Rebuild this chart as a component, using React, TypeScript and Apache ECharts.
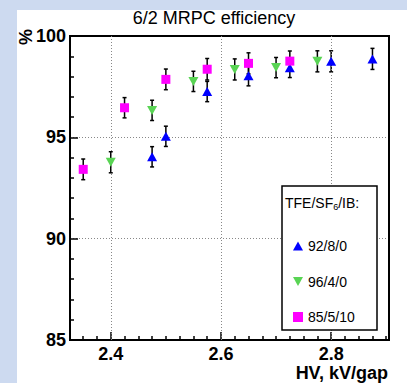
import React, { useEffect, useRef } from "react";
import * as echarts from "echarts";

// HV (kV/gap) and efficiency (%) per gas mixture
const hvA = [2.475, 2.5, 2.575, 2.65, 2.725, 2.8, 2.875];
const effA = [94.04, 95.05, 97.26, 98.04, 98.43, 98.75, 98.87];
const errA = [0.5, 0.5, 0.5, 0.5, 0.48, 0.52, 0.52];

const hvB = [2.4, 2.475, 2.55, 2.625, 2.7, 2.775];
const effB = [93.77, 96.33, 97.76, 98.35, 98.44, 98.75];
const errB = [0.52, 0.5, 0.5, 0.52, 0.5, 0.52];

const hvC = [2.35, 2.425, 2.5, 2.575, 2.65, 2.725];
const effC = [93.42, 96.46, 97.86, 98.36, 98.65, 98.76];
const errC = [0.51, 0.5, 0.51, 0.53, 0.52, 0.5];

const seriesNames = ["92/8/0", "96/4/0", "85/5/10"];
const xMajorTicks = [2.4, 2.6, 2.8];
const xMinorTicks = [2.35, 2.375, 2.425, 2.45, 2.475, 2.5, 2.525, 2.55, 2.575, 2.625, 2.65, 2.675, 2.7, 2.725, 2.75, 2.775, 2.825, 2.85, 2.875, 2.9];

const FONT = "'Liberation Sans', Arial, Helvetica, sans-serif";
const DOWN_TRI = "path://M0,0 L10,0 L5,9 Z";
const UP_TRI = "path://M5,0 L10,9 L0,9 Z";

function pts(hv: number[], eff: number[]) {
  return hv.map((h, i) => [h, eff[i]]);
}
function errs(hv: number[], eff: number[], err: number[]) {
  return hv.map((h, i) => [h, eff[i] - err[i], eff[i] + err[i]]);
}

const errRender = (params: any, api: any) => {
  const x = api.value(0);
  const lo = api.coord([x, api.value(1)]);
  const hi = api.coord([x, api.value(2)]);
  const style = { stroke: "#000", lineWidth: 1.5 };
  const cap = 2;
  return {
    type: "group",
    children: [
      { type: "line", shape: { x1: lo[0], y1: lo[1], x2: hi[0], y2: hi[1] }, style },
      { type: "line", shape: { x1: lo[0] - cap, y1: lo[1], x2: lo[0] + cap, y2: lo[1] }, style },
      { type: "line", shape: { x1: hi[0] - cap, y1: hi[1], x2: hi[0] + cap, y2: hi[1] }, style },
    ],
  };
};

export default function App() {
  const ref = useRef<HTMLDivElement>(null);
  useEffect(() => {
    document.body.style.margin = "0";
    const chart = echarts.init(ref.current!, undefined, { renderer: "svg" });
    const labelStyle = { fontFamily: FONT, fontWeight: "bold" as const, fontSize: 18, color: "#000" };
    const dotted = { color: "#888", width: 1, type: [1, 2] as any };
    chart.setOption({
      animation: false,
      backgroundColor: "#cddaf0",
      grid: {
        left: 70,
        right: 18,
        top: 36,
        bottom: 43,
        show: true,
        borderColor: "#000",
        borderWidth: 2,
        backgroundColor: "transparent",
        z: 3,
      },
      xAxis: [
        {
          type: "value",
          min: 2.326,
          max: 2.905,
          axisLine: { show: true, onZero: false, lineStyle: { color: "#000", width: 2 } },
          axisTick: { show: true, inside: true, length: 8, customValues: xMajorTicks, lineStyle: { color: "#000", width: 1.5 } },
          axisLabel: { ...labelStyle, margin: 5, customValues: xMajorTicks, formatter: (v: number) => v.toFixed(1) },
          splitLine: { show: false },
        },
        {
          type: "value",
          min: 2.326,
          max: 2.905,
          position: "bottom",
          axisLine: { show: false },
          axisTick: { show: true, inside: true, length: 4, customValues: xMinorTicks, lineStyle: { color: "#000", width: 1.5 } },
          axisLabel: { show: false },
          splitLine: { show: false },
        },
      ],
      yAxis: {
        type: "value",
        min: 85,
        max: 100,
        interval: 5,
        axisLine: { show: true, onZero: false, lineStyle: { color: "#000", width: 2 } },
        axisTick: { show: true, inside: true, length: 8, lineStyle: { color: "#000", width: 1.5 } },
        minorTick: { show: true, splitNumber: 5, length: 4, lineStyle: { color: "#000", width: 1.5 } },
        axisLabel: { ...labelStyle, margin: 4 },
        splitLine: { show: true, showMinLine: false, showMaxLine: false, lineStyle: dotted },
      },
      legend: {
        data: [
          { name: seriesNames[0], icon: UP_TRI },
          { name: seriesNames[1], icon: DOWN_TRI },
          { name: seriesNames[2], icon: "rect" },
        ],
        orient: "vertical",
        left: 288,
        top: 233,
        itemWidth: 10,
        itemHeight: 10,
        itemGap: 19.5,
        z: 20,
        textStyle: { fontFamily: FONT, fontSize: 14, color: "#000", lineHeight: 16 },
      },
      graphic: [
        { type: "rect", z: -10, silent: true, shape: { x: 17, y: 10, width: 400, height: 380 }, style: { fill: "#fff" } },
        {
          type: "text",
          x: 214,
          y: 18,
          style: { text: "6/2 MRPC efficiency", font: `18px ${FONT}`, fill: "#000", align: "center", verticalAlign: "middle" },
        },
        {
          type: "text",
          x: 26,
          y: 37,
          rotation: Math.PI / 2,
          style: { text: "%", font: `bold 18px ${FONT}`, fill: "#000", align: "center", verticalAlign: "middle" },
        },
        {
          type: "text",
          x: 388,
          y: 373,
          style: { text: "HV, kV/gap", font: `bold 18px ${FONT}`, fill: "#000", align: "right", verticalAlign: "middle" },
        },
        {
          type: "rect",
          z: 10,
          shape: { x: 282, y: 186, width: 95, height: 144 },
          style: { fill: "#fff", stroke: "#000", lineWidth: 1.5 },
        },
        {
          type: "text",
          z: 11,
          x: 285,
          y: 195,
          style: {
            text: "{a|TFE/SF}{s|6}{a|/IB:}",
            fill: "#000",
            rich: {
              a: { fontFamily: FONT, fontSize: 14, lineHeight: 16, fill: "#000" },
              s: { fontFamily: FONT, fontSize: 9, lineHeight: 10, padding: [6, 0, 0, 0], verticalAlign: "bottom", fill: "#000" },
            },
          },
        },
      ],
      series: [
        {
          type: "custom",
          renderItem: errRender,
          data: errs(hvA, effA, errA),
          z: 2,
          silent: true,
          markLine: {
            silent: true,
            symbol: "none",
            label: { show: false },
            lineStyle: dotted,
            data: xMajorTicks.map((v) => ({ xAxis: v })),
          },
        },
        { type: "custom", renderItem: errRender, data: errs(hvB, effB, errB), z: 2, silent: true },
        { type: "custom", renderItem: errRender, data: errs(hvC, effC, errC), z: 2, silent: true },
        {
          name: seriesNames[0],
          type: "scatter",
          symbol: "triangle",
          symbolSize: [10, 9],
          itemStyle: { color: "#0000ff", opacity: 1 },
          data: pts(hvA, effA),
          z: 5,
        },
        {
          name: seriesNames[1],
          type: "scatter",
          symbol: "triangle",
          symbolRotate: 180,
          symbolSize: [10, 9],
          itemStyle: { color: "#59d454", opacity: 1 },
          data: pts(hvB, effB),
          z: 5,
        },
        {
          name: seriesNames[2],
          type: "scatter",
          symbol: "rect",
          symbolSize: 9,
          itemStyle: { color: "#ff00ff", opacity: 1 },
          data: pts(hvC, effC),
          z: 5,
        },
      ],
    });
    return () => chart.dispose();
  }, []);
  return <div ref={ref} style={{ width: 407, height: 383 }} />;
}
